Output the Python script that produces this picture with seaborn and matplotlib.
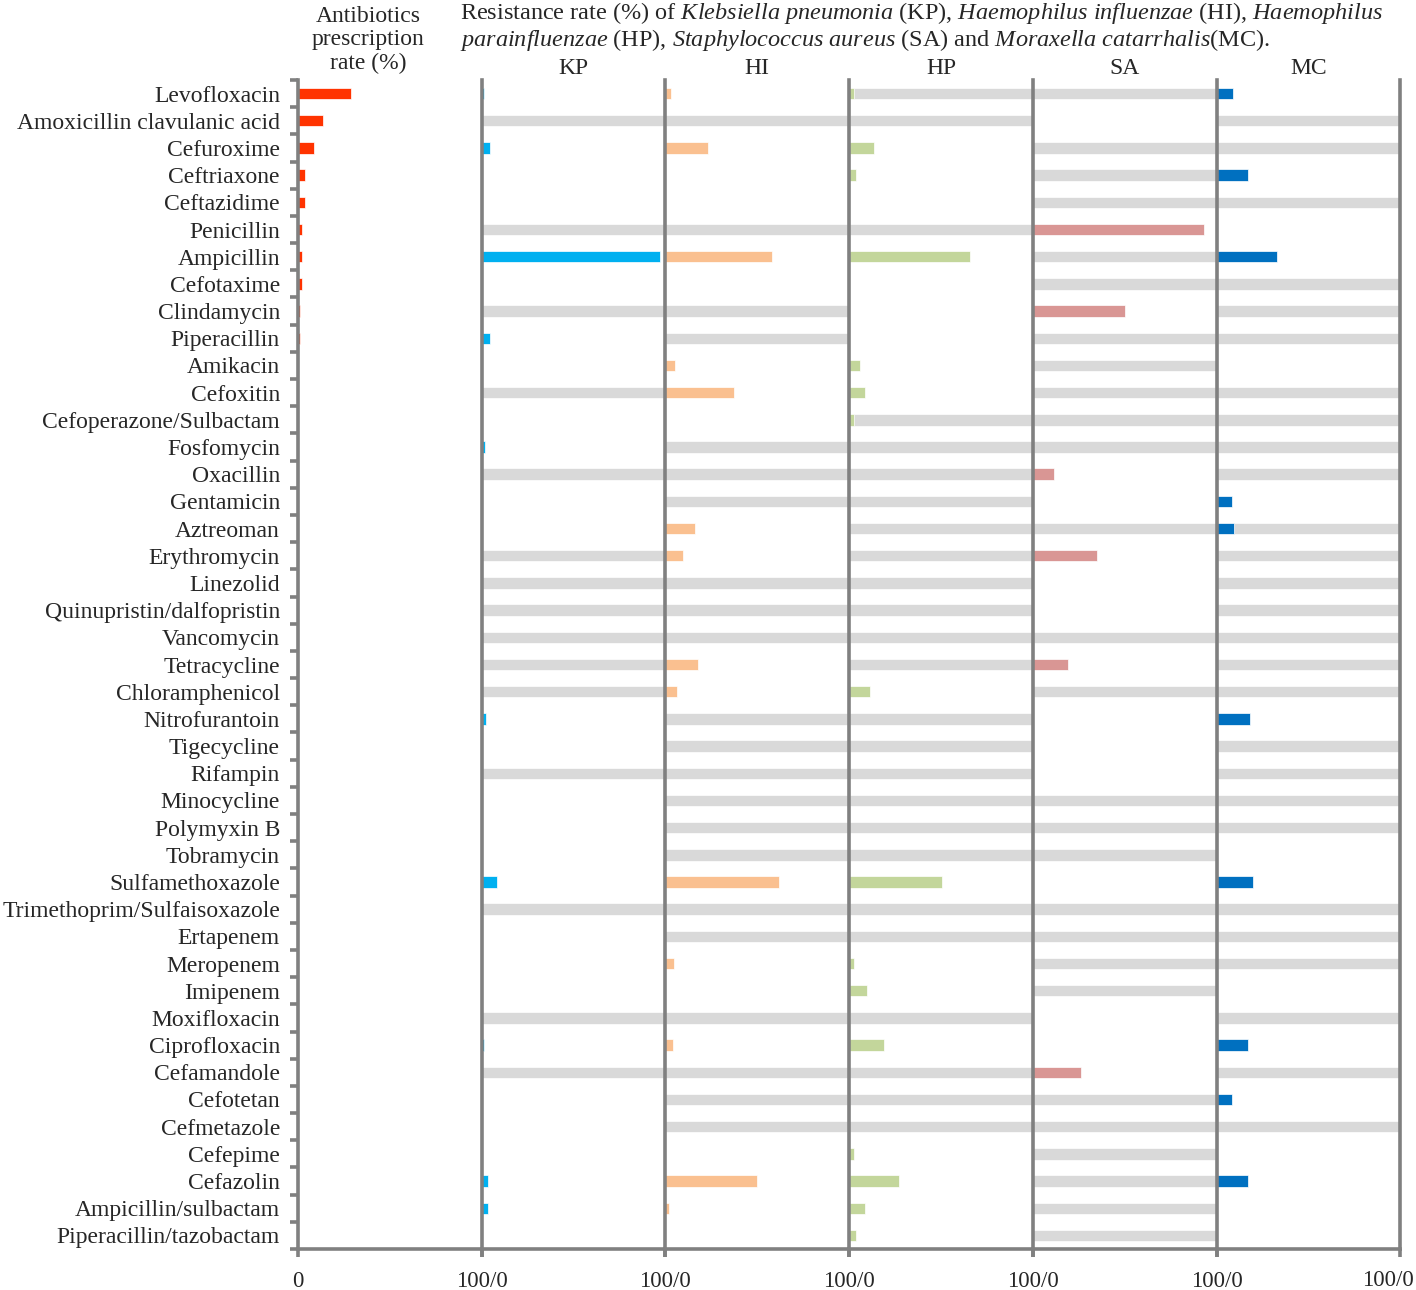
import numpy as np
import pandas as pd
import matplotlib
matplotlib.use("Agg")
import matplotlib.pyplot as plt
import seaborn as sns

sns.set_theme(style="white")
plt.rcParams["font.family"] = ["Liberation Serif", "DejaVu Serif"]
plt.rcParams["mathtext.fontset"] = "custom"
plt.rcParams["mathtext.rm"] = "Liberation Serif"
plt.rcParams["mathtext.it"] = "Liberation Serif:italic"

ANTIBIOTICS = [
    "Levofloxacin", "Amoxicillin clavulanic acid", "Cefuroxime", "Ceftriaxone",
    "Ceftazidime", "Penicillin", "Ampicillin", "Cefotaxime", "Clindamycin",
    "Piperacillin", "Amikacin", "Cefoxitin", "Cefoperazone/Sulbactam", "Fosfomycin",
    "Oxacillin", "Gentamicin", "Aztreoman", "Erythromycin", "Linezolid",
    "Quinupristin/dalfopristin", "Vancomycin", "Tetracycline", "Chloramphenicol",
    "Nitrofurantoin", "Tigecycline", "Rifampin", "Minocycline", "Polymyxin B",
    "Tobramycin", "Sulfamethoxazole", "Trimethoprim/Sulfaisoxazole", "Ertapenem",
    "Meropenem", "Imipenem", "Moxifloxacin", "Ciprofloxacin", "Cefamandole",
    "Cefotetan", "Cefmetazole", "Cefepime", "Cefazolin", "Ampicillin/sulbactam",
    "Piperacillin/tazobactam",
]

# prescription rate (%)
prescription = [29, 13.5, 8.5, 4, 4, 2, 2, 2, 1, 1] + [0] * 33

# resistance rate (%) per organism, by antibiotic index
kp_res = {0: 1.4, 2: 4.3, 6: 97, 9: 4.3, 13: 2, 23: 2.3, 29: 8.3, 35: 1, 40: 3.3, 41: 3.3}
hi_res = {0: 3.2, 2: 23, 6: 58, 10: 5.4, 11: 37.6, 16: 16, 17: 9.6, 21: 18, 22: 6.5,
          29: 62, 32: 4.8, 35: 4, 40: 50, 41: 1.7}
hp_res = {0: 2.8, 2: 13.5, 3: 4, 6: 66, 10: 6, 11: 8.7, 12: 2.5, 22: 11.5, 29: 50.5,
          32: 2.5, 33: 9.5, 35: 19, 39: 2.5, 40: 27, 41: 8.5, 42: 4}
sa_res = {5: 93, 8: 50, 14: 11.4, 17: 35, 21: 19, 36: 26}
mc_res = {0: 9, 3: 17.4, 6: 33, 15: 8.7, 16: 9.6, 23: 18.3, 29: 20, 35: 17, 37: 8.7, 40: 17}

# antibiotics shown as grey (not applicable / not tested) for each organism
kp_grey = [1, 5, 8, 11, 14, 17, 18, 19, 20, 21, 22, 25, 30, 34, 36]
hi_grey = [1, 5, 8, 9, 13, 14, 15, 18, 19, 20, 23, 24, 25, 26, 27, 28, 30, 31, 34, 36, 37, 38]
hp_grey = [0, 1, 5, 12, 13, 14, 15, 16, 17, 18, 19, 20, 21, 23, 24, 25, 26, 27, 28, 30,
           31, 34, 36, 37, 38]
sa_grey = [0, 2, 3, 4, 6, 7, 9, 10, 11, 12, 13, 16, 20, 22, 26, 27, 28, 30, 31, 32, 33,
           37, 38, 39, 40, 41, 42]
mc_grey = [1, 2, 4, 7, 8, 9, 11, 12, 13, 14, 16, 17, 18, 19, 20, 21, 22, 24, 25, 26, 27,
           30, 31, 32, 34, 36, 38]

ORGANISMS = ["KP", "HI", "HP", "SA", "MC"]
RES = [kp_res, hi_res, hp_res, sa_res, mc_res]
GREY = [kp_grey, hi_grey, hp_grey, sa_grey, mc_grey]
COLORS = {"KP": "#00B0F0", "HI": "#FAC090", "HP": "#C3D69B", "SA": "#D99694", "MC": "#0070C0"}
RED = "#FF3300"
GREY_BAR = "#D9D9D9"
LINE = "#808080"

W, H = 1416, 1290
fig = plt.figure(figsize=(W / 100, H / 100), dpi=100)

x0, pw = 298, 183.7
top_px, bot_px = 80, 1249
n = len(ANTIBIOTICS)
bar_w = 0.42
TICK_FS = 16.5


def make_ax(i):
    ax = fig.add_axes([(x0 + i * pw) / W, 1 - bot_px / H, pw / W, (bot_px - top_px) / H])
    ax.set_xlim(0, 100)
    for s in ["top", "right"]:
        ax.spines[s].set_visible(False)
    for s in ["left", "bottom"]:
        ax.spines[s].set_color(LINE)
        ax.spines[s].set_linewidth(2.6)
    return ax


# left panel: prescription rate
ax0 = make_ax(0)
df0 = pd.DataFrame({"drug": ANTIBIOTICS, "rate": prescription})
sns.barplot(data=df0, x="rate", y="drug", orient="h", color=RED, width=bar_w,
            saturation=1, ax=ax0, edgecolor="white", linewidth=0.5)
ax0.set_ylim(n - 0.5, -0.5)
ax0.set_xlim(0, 100)
ax0.set_xlabel("")
ax0.set_ylabel("")
ax0.set_yticks(range(n))
ax0.set_yticklabels(ANTIBIOTICS, fontsize=17)
ax0.tick_params(axis="y", which="major", length=0, pad=13)
ax0.set_yticks(np.arange(-0.5, n, 1), minor=True)
ax0.tick_params(axis="y", which="minor", left=True, length=6, width=2.6, color=LINE,
                direction="out")
ax0.set_xticks([0, 100])
ax0.set_xticklabels(["0", "100/0"], fontsize=TICK_FS)
ax0.tick_params(axis="x", bottom=True, length=6, width=2.6, color=LINE, pad=10)

for k, org in enumerate(ORGANISMS):
    ax = make_ax(k + 1)
    res = RES[k]
    df = pd.DataFrame({
        "drug": ANTIBIOTICS,
        "res": [res.get(i, 0) for i in range(n)],
        "grey": [100 if i in GREY[k] else 0 for i in range(n)],
    })
    sns.barplot(data=df, x="grey", y="drug", orient="h", color=GREY_BAR, width=bar_w,
                saturation=1, ax=ax, edgecolor="white", linewidth=0.5)
    sns.barplot(data=df, x="res", y="drug", orient="h", color=COLORS[org], width=bar_w,
                saturation=1, ax=ax, edgecolor="white", linewidth=0.5)
    ax.set_ylim(n - 0.5, -0.5)
    ax.set_xlim(0, 100)
    ax.set_xlabel("")
    ax.set_ylabel("")
    ax.set_yticks([])
    ax.set_xticks([0, 100])
    last = k == len(ORGANISMS) - 1
    ax.set_xticklabels(["", "" if last else "100/0"], fontsize=TICK_FS)
    ax.tick_params(axis="x", bottom=True, length=6, width=2.6, color=LINE, pad=10)
    # panel heading, same baseline for all panels
    ax.text(0.5, 1 + 12 / (bot_px - top_px), org, transform=ax.transAxes,
            ha="center", va="center", fontsize=17)
    if last:
        ax.spines["right"].set_visible(True)
        ax.spines["right"].set_color(LINE)
        ax.spines["right"].set_linewidth(2.6)

# last axis label sits inside the right edge, as in the original
fig.text(1414 / W, 1 - 1281 / H, "100/0", ha="right", va="center", fontsize=TICK_FS)

# header texts
fig.text(368 / W, 1 - 40 / H, "Antibiotics\nprescription\nrate (%)", ha="center",
         va="center", fontsize=17, linespacing=1.17)
fig.text(460 / W, 1 - 13 / H,
         r"Resistance rate (%) of $\it{Klebsiella\ pneumonia\ (}$KP$\it{)}$, "
         r"$\it{Haemophilus\ influenzae\ (}$HI$\it{)}$, $\it{Haemophilus}$",
         ha="left", va="center", fontsize=17.5)
fig.text(460 / W, 1 - 40 / H,
         r"$\it{parainfluenzae\ (}$HP$\it{)}$, $\it{Staphylococcus\ aureus\ (}$SA$\it{)}$ and "
         r"$\it{Moraxella\ catarrhalis(}$MC$\it{)}$.",
         ha="left", va="center", fontsize=17.5)

fig.savefig("out.png", dpi=100)
